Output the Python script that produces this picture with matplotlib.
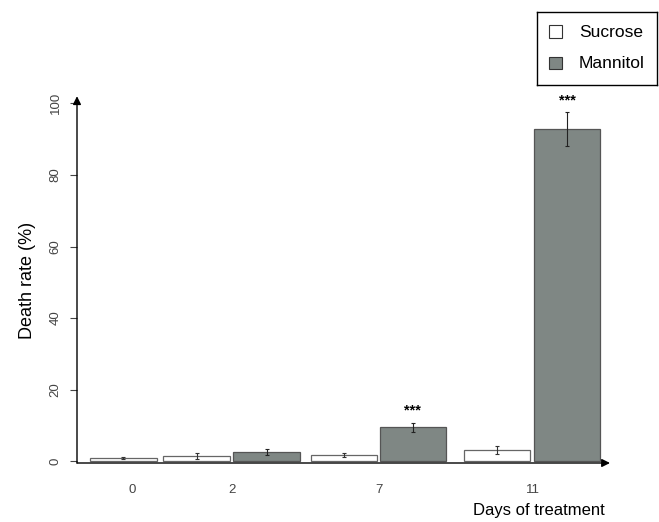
import matplotlib
matplotlib.use('Agg')
import matplotlib.pyplot as plt
import numpy as np

plt.rcParams['font.family'] = ['Liberation Sans', 'DejaVu Sans']

# data
days = ['0', '2', '7', '11']
sucrose = [0.9, 1.4, 1.7, 3.2]
sucrose_err = [0.3, 0.8, 0.5, 1.1]
mannitol = [2.5, 9.5, 92.8]          # day 0 has no mannitol bar
mannitol_err = [0.8, 1.3, 4.7]
mannitol_stars = ['', '***', '***']

# layout (units of one bar width)
bw = 0.98
tick_pos = np.array([0.81, 2.28, 4.44, 6.70])
suc_pos = np.array([0.68, 1.76, 3.93, 6.18])
man_pos = np.array([2.79, 4.94, 7.21])
xmax = 7.84

fig = plt.figure(figsize=(6.59, 5.22), dpi=100)
ax = fig.add_axes([77/659, (522-463)/522, (610-77)/659, (463-98)/522])

white = '#ffffff'
gray = '#7f8784'
ax.bar(suc_pos, sucrose, width=bw, color=white, edgecolor='#666666', linewidth=0.9,
       yerr=sucrose_err, error_kw=dict(ecolor='#333333', elinewidth=0.8, capsize=1.5, capthick=0.8))
ax.bar(man_pos, mannitol, width=bw, color=gray, edgecolor='#555555', linewidth=0.9,
       yerr=mannitol_err, error_kw=dict(ecolor='#222222', elinewidth=0.8, capsize=1.5, capthick=0.8))
for x, v, e, s in zip(man_pos, mannitol, mannitol_err, mannitol_stars):
    if s:
        ax.text(x, v + e + 1.3, s, ha='center', va='bottom', fontsize=10.5, fontweight='bold')

ax.set_xlim(0, xmax)
ax.set_ylim(-0.5, 101.5)
for sp in ax.spines.values():
    sp.set_visible(False)

# axes drawn as arrows
arr = dict(arrowstyle='-|>', color='black', lw=1.0, mutation_scale=12, shrinkA=0, shrinkB=0)
ax.annotate('', xy=(0, 102), xytext=(0, -0.5), xycoords='data',
            arrowprops=arr, annotation_clip=False)
ax.annotate('', xy=(xmax, -0.5), xytext=(0, -0.5), xycoords='data',
            arrowprops=arr, annotation_clip=False)

ax.set_yticks([0, 20, 40, 60, 80, 100])
ax.set_yticklabels(['0', '20', '40', '60', '80', '100'], rotation=90, va='center',
                   fontsize=9.5, color='#444444')
ax.tick_params(axis='y', length=5, width=0.8, color='#444444', pad=6)
ax.set_xticks(tick_pos)
ax.set_xticklabels(days, fontsize=9.5, color='#444444')
ax.tick_params(axis='x', length=0, pad=15)

ax.set_ylabel('Death rate (%)', fontsize=13, labelpad=10)
fig.text(539/659, 1 - 510/522, 'Days of treatment', ha='center', va='center', fontsize=12,
         family=['Liberation Sans Narrow', 'Liberation Sans', 'DejaVu Sans'])

# legend
lax = fig.add_axes([537/659, 1 - 85/522, 120/659, 73/522])
lax.set_xlim(0, 120)
lax.set_ylim(73, 0)
lax.set_xticks([])
lax.set_yticks([])
for sp in lax.spines.values():
    sp.set_linewidth(1.0)
    sp.set_color('black')
for y, c, lab in [(19.5, white, 'Sucrose'), (51, gray, 'Mannitol')]:
    lax.add_patch(plt.Rectangle((12, y - 6.5), 13, 13, facecolor=c, edgecolor='#333333', lw=0.8))
    lax.text(42, y + 1, lab, va='center', ha='left', fontsize=12.5)

fig.savefig('out.png', dpi=100)
